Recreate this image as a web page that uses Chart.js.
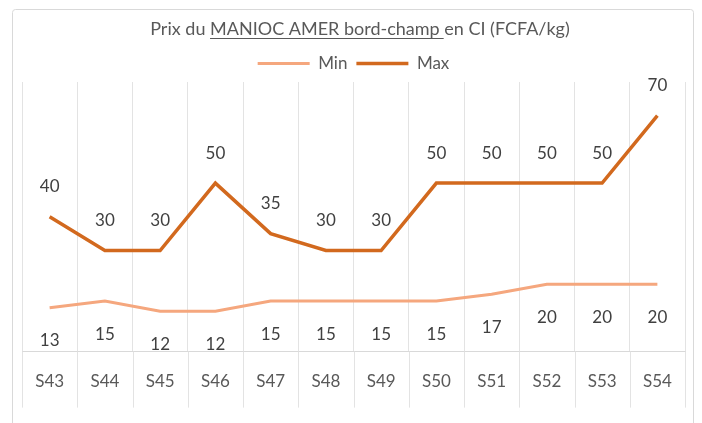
<!DOCTYPE html>
<html>
<head>
<meta charset="utf-8">
<script src="https://cdn.jsdelivr.net/npm/chart.js@4.4.1/dist/chart.umd.min.js"></script>
<style>
  html, body { margin: 0; padding: 0; background: #fff; }
  #wrap { width: 702px; height: 423px; }
</style>
</head>
<body>
<div id="wrap"><canvas id="chart"></canvas></div>
<script>
const weeks = ['S43', 'S44', 'S45', 'S46', 'S47', 'S48', 'S49', 'S50', 'S51', 'S52', 'S53', 'S54'];
const minPrices = [13, 15, 12, 12, 15, 15, 15, 15, 17, 20, 20, 20];
const maxPrices = [40, 30, 30, 50, 35, 30, 30, 50, 50, 50, 50, 70];
const titleParts = ['Prix du ', 'MANIOC AMER bord-champ ', 'en CI (FCFA/kg)'];

const FONT = 'Lato, "Open Sans", sans-serif';
const TEXT = '#595959';
const GRID = '#e3e3e3';

// frame, title with underlined part, and the table-like lines under the axis
const decor = {
    id: 'decor',
    beforeDraw(chart) {
        const ctx = chart.ctx;
        ctx.save();
        ctx.strokeStyle = '#d9d9d9';
        ctx.lineWidth = 1;
        ctx.beginPath();
        ctx.roundRect(12.5, 9.5, 681, 420, 3);
        ctx.stroke();
        ctx.restore();
    },
    afterDraw(chart) {
        const ctx = chart.ctx;
        ctx.save();
        ctx.font = '18px ' + FONT;
        ctx.fillStyle = TEXT;
        ctx.textBaseline = 'alphabetic';
        const widths = titleParts.map(p => ctx.measureText(p).width);
        const total = widths.reduce((a, b) => a + b, 0);
        let x = 360 - total / 2;
        const y = 35;
        titleParts.forEach((p, i) => {
            ctx.fillText(p, x, y);
            if (i === 1) {
                const w = ctx.measureText(p.trimEnd()).width;
                ctx.strokeStyle = TEXT;
                ctx.lineWidth = 1;
                ctx.beginPath();
                ctx.moveTo(x, y + 3.5);
                ctx.lineTo(x + w + 4, y + 3.5);
                ctx.stroke();
            }
            x += widths[i];
        });

        // category separators below the axis line
        const xs = chart.scales.x;
        const bottom = chart.chartArea.bottom;
        ctx.strokeStyle = GRID;
        ctx.lineWidth = 1;
        for (let i = 0; i <= weeks.length; i++) {
            const px = Math.round(xs.getPixelForValue(i - 0.5)) + 0.5;
            ctx.beginPath();
            ctx.moveTo(px, bottom);
            ctx.lineTo(px, bottom + 56);
            ctx.stroke();
        }
        ctx.restore();
    }
};

// value labels: Max above the points, Min below
const valueLabels = {
    id: 'valueLabels',
    afterDatasetsDraw(chart) {
        const ctx = chart.ctx;
        ctx.save();
        ctx.font = '17px ' + FONT;
        ctx.fillStyle = '#404040';
        ctx.textAlign = 'center';
        ctx.textBaseline = 'middle';
        chart.data.datasets.forEach((ds, i) => {
            const meta = chart.getDatasetMeta(i);
            meta.data.forEach((pt, j) => {
                const dy = ds.label === 'Max' ? -30 : 33;
                ctx.fillText(ds.data[j], pt.x, pt.y + dy);
            });
        });
        ctx.restore();
    }
};

new Chart(document.getElementById('chart'), {
    type: 'line',
    data: {
        labels: weeks,
        datasets: [
            {
                label: 'Min',
                data: minPrices,
                borderColor: '#f5a77e',
                backgroundColor: '#f5a77e',
                borderWidth: 3,
                pointRadius: 0,
                tension: 0
            },
            {
                label: 'Max',
                data: maxPrices,
                borderColor: '#d2691e',
                backgroundColor: '#d2691e',
                borderWidth: 3.5,
                pointRadius: 0,
                tension: 0
            }
        ]
    },
    options: {
        responsive: true,
        maintainAspectRatio: false,
        animation: false,
        layout: { padding: { left: 22, right: 17, top: 46, bottom: 11 } },
        plugins: {
            title: { display: false },
            tooltip: { enabled: false },
            legend: {
                position: 'top',
                labels: {
                    usePointStyle: true,
                    pointStyle: 'line',
                    pointStyleWidth: 52,
                    font: { family: FONT, size: 17 },
                    color: TEXT,
                    padding: 9
                }
            }
        },
        scales: {
            x: {
                offset: true,
                grid: { offset: true, color: GRID, drawTicks: false },
                border: { color: '#d9d9d9' },
                ticks: { font: { family: FONT, size: 17 }, color: TEXT, padding: 20 }
            },
            y: {
                display: false,
                min: 0,
                max: 80
            }
        }
    },
    plugins: [decor, valueLabels]
});
</script>
</body>
</html>
